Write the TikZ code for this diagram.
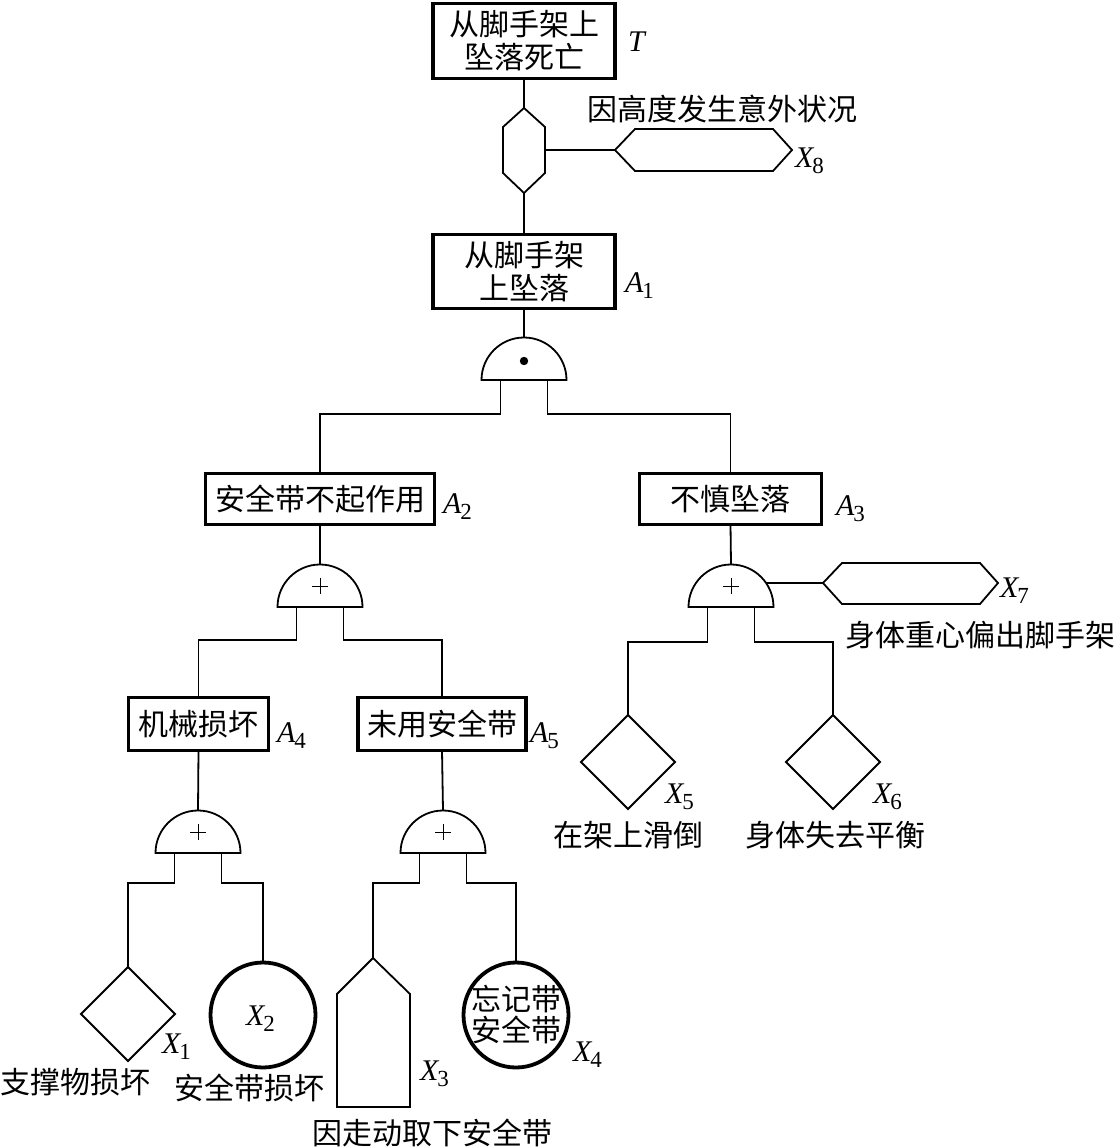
\documentclass[tikz,border=0pt]{standalone}
\usepackage{fontspec}
\setmainfont{Liberation Serif}
\newfontfamily\cjk{Noto Sans CJK SC}
\usetikzlibrary{shapes.geometric}
\newcommand\lbl[2]{{\itshape #1}\kern-1pt\raisebox{-6pt}{\fontsize{23}{23}\selectfont\upshape #2}}
\tikzset{
  every node/.style={inner sep=0pt, outer sep=0pt},
  conn/.style={line width=1.8pt},
  evbox/.style={draw, line width=3.8pt, align=center, font=\cjk\fontsize{30}{33}\selectfont},
  txt/.style={font=\cjk\fontsize{30}{32}\selectfont, align=center},
  lab/.style={anchor=base west, font=\fontsize{30}{32}\selectfont},
  undev/.style={diamond, draw, line width=1.8pt, minimum width=94pt, minimum height=94pt},
  basicev/.style={circle, draw, line width=3.8pt, minimum size=105pt},
  andgate/.pic={
    \draw[line width=1.8pt] (-42.5,0) arc[start angle=180,end angle=0,radius=42.5pt] -- cycle;
    \fill (0,-19) circle[radius=4.2pt];
    \coordinate (-top) at (0,-42.5);
    \coordinate (-bl) at (-23.5,0);
    \coordinate (-br) at (23.5,0);
  },
  orgate/.pic={
    \draw[line width=1.8pt] (-42.5,0) arc[start angle=180,end angle=0,radius=42.5pt] -- cycle;
    \draw[line width=1pt] (-8,-21) -- (8,-21) (0,-29) -- (0,-13);
    \coordinate (-top) at (0,-42.5);
    \coordinate (-bl) at (-23.5,0);
    \coordinate (-br) at (23.5,0);
  }
}
\begin{document}
\begin{tikzpicture}[x=1pt,y=-1pt]
\fill[white] (0,0) rectangle (1119,1148);
\useasboundingbox (0,0) rectangle (1119,1148);

% top event and inhibit gate
\node[evbox, minimum width=182pt, minimum height=75pt] (t) at (524,41) {从脚手架上\\坠落死亡};
\node[lab] (tl) at (628,52) {\itshape T};
\coordinate (hexT) at (524,108);
\coordinate (hexB) at (524,193);
\coordinate (hexR) at (545,150);
\draw[conn] (hexT) -- (545,127) -- (hexR) -- (545,173) -- (hexB) -- (503,173) -- (503,127) -- cycle;
\coordinate (x8L) at (615,150);
\draw[conn] (x8L) -- (635,129) -- (773,129) -- (792,150) -- (773,171) -- (635,171) -- cycle;
\node[txt] (x8t) at (722,109) {因高度发生意外状况};
\node[lab] (x8l) at (795,167) {\lbl{X}{8}};

\node[evbox, minimum width=182pt, minimum height=74pt] (a1) at (524,271.5) {从脚手架\\上坠落};
\node[lab] (a1l) at (625,292) {\lbl{A}{1}};
\pic (g1) at (524,380) {andgate};

\node[evbox, minimum width=229pt, minimum height=51pt] (a2) at (320,499) {安全带不起作用};
\node[lab] (a2l) at (443,513) {\lbl{A}{2}};
\node[evbox, minimum width=182pt, minimum height=51pt] (a3) at (730.5,499) {不慎坠落};
\node[lab] (a3l) at (836,515) {\lbl{A}{3}};

\pic (g2) at (320,607) {orgate};
\pic (g3) at (731,607) {orgate};
\coordinate (g3side) at (765.5,583);
\coordinate (x7L) at (823,583);
\draw[conn] (x7L) -- (842,563) -- (980,563) -- (998,583) -- (980,604) -- (842,604) -- cycle;
\node[lab] (x7l) at (1000,597) {\lbl{X}{7}};
\node[txt] (x7t) at (980,635) {身体重心偏出脚手架};

\node[evbox, minimum width=140pt, minimum height=53pt] (a4) at (198.5,724) {机械损坏};
\node[lab] (a4l) at (277,742) {\lbl{A}{4}};
\node[evbox, minimum width=168pt, minimum height=53pt] (a5) at (442,724) {未用安全带};
\node[lab] (a5l) at (530,742) {\lbl{A}{5}};

\node[undev] (x5) at (628,762) {};
\node[lab] (x5l) at (665,803) {\lbl{X}{5}};
\node[txt] (x5t) at (628,835) {在架上滑倒};
\node[undev] (x6) at (833,762) {};
\node[lab] (x6l) at (873,803) {\lbl{X}{6}};
\node[txt] (x6t) at (835,835) {身体失去平衡};

\pic (g4) at (198,853) {orgate};
\pic (g5) at (443,853) {orgate};

\node[undev] (x1) at (128,1014) {};
\node[lab] (x1l) at (162,1053) {\lbl{X}{1}};
\node[txt] (x1t) at (76,1082) {支撑物损坏};
\node[basicev] (x2) at (263,1015) {};
\node[lab] (x2l) at (246,1025) {\lbl{X}{2}};
\node[txt] (x2t) at (249,1088) {安全带损坏};
\coordinate (x3top) at (373,958);
\draw[conn] (x3top) -- (410,994) -- (410,1107) -- (337,1107) -- (337,994) -- cycle;
\node[lab] (x3l) at (420,1080) {\lbl{X}{3}};
\node[txt] (x3t) at (432,1133) {因走动取下安全带};
\node[basicev] (x4) at (516,1015) {};
\node[txt, font=\cjk\fontsize{30}{31}\selectfont] (x4t) at (516,1015) {忘记带\\安全带};
\node[lab] (x4l) at (573,1061) {\lbl{X}{4}};

% connectors
\draw[conn] (t.south) -- (hexT);
\draw[conn] (hexB) -- (a1.north);
\draw[conn] (hexR) -- (x8L);
\draw[conn] (a1.south) -- (g1-top);
\draw[conn] (g1-bl) -- ++(0,34) -| (a2.north);
\draw[conn] (g1-br) -- ++(0,34) -| (a3.north);
\draw[conn] (a2.south) -- (g2-top);
\draw[conn] (a3.south) -- (g3-top);
\draw[conn] (g3side) -- (x7L);
\draw[conn] (g2-bl) -- ++(0,33) -| (a4.north);
\draw[conn] (g2-br) -- ++(0,33) -| (a5.north);
\draw[conn] (g3-bl) -- ++(0,35) -| (x5.north);
\draw[conn] (g3-br) -- ++(0,35) -| (x6.north);
\draw[conn] (a4.south) -- (g4-top);
\draw[conn] (a5.south) -- (g5-top);
\draw[conn] (g4-bl) -- ++(0,30) -| (x1.north);
\draw[conn] (g4-br) -- ++(0,30) -| (x2.north);
\draw[conn] (g5-bl) -- ++(0,30) -| (x3top);
\draw[conn] (g5-br) -- ++(0,30) -| (x4.north);
\end{tikzpicture}
\end{document}
